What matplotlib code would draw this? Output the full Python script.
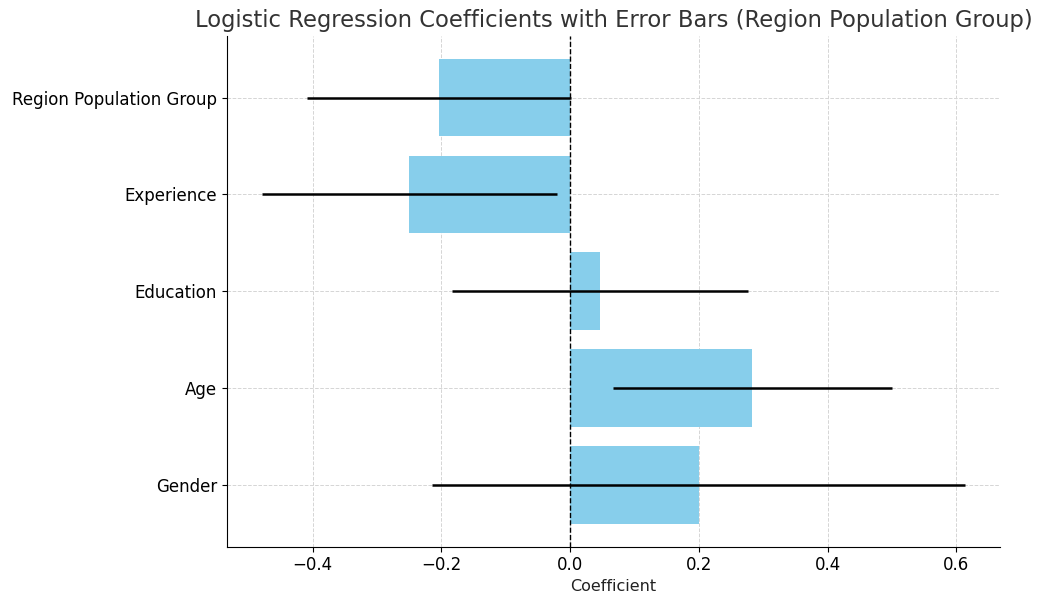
import matplotlib
matplotlib.use("Agg")
import matplotlib.pyplot as plt

features = ["Gender", "Age", "Education", "Experience", "Region Population Group"]
coefs = [0.200, 0.283, 0.047, -0.250, -0.204]
errors = [0.414, 0.217, 0.230, 0.229, 0.205]

fig, ax = plt.subplots(figsize=(10.4, 5.93), dpi=100)
ax.barh(features, coefs, xerr=errors, color="skyblue", height=0.8,
        error_kw=dict(ecolor="black", elinewidth=1.8, capsize=0), zorder=2)
ax.axvline(0, color="black", ls="--", lw=1, zorder=3)

ax.set_xlabel("Coefficient", fontsize=11.5, color="#222222", labelpad=3)
ax.set_title("Logistic Regression Coefficients with Error Bars (Region Population Group)",
             fontsize=16.3, color="#333333")
ax.tick_params(labelsize=12)
ax.grid(True, ls="--", color="#d5d5d5", lw=0.7, zorder=0)
ax.set_axisbelow(True)
ax.spines["top"].set_visible(False)
ax.spines["right"].set_visible(False)

fig.subplots_adjust(left=0.218, right=0.962, bottom=0.078, top=0.94)
fig.savefig("out.png", dpi=100)
